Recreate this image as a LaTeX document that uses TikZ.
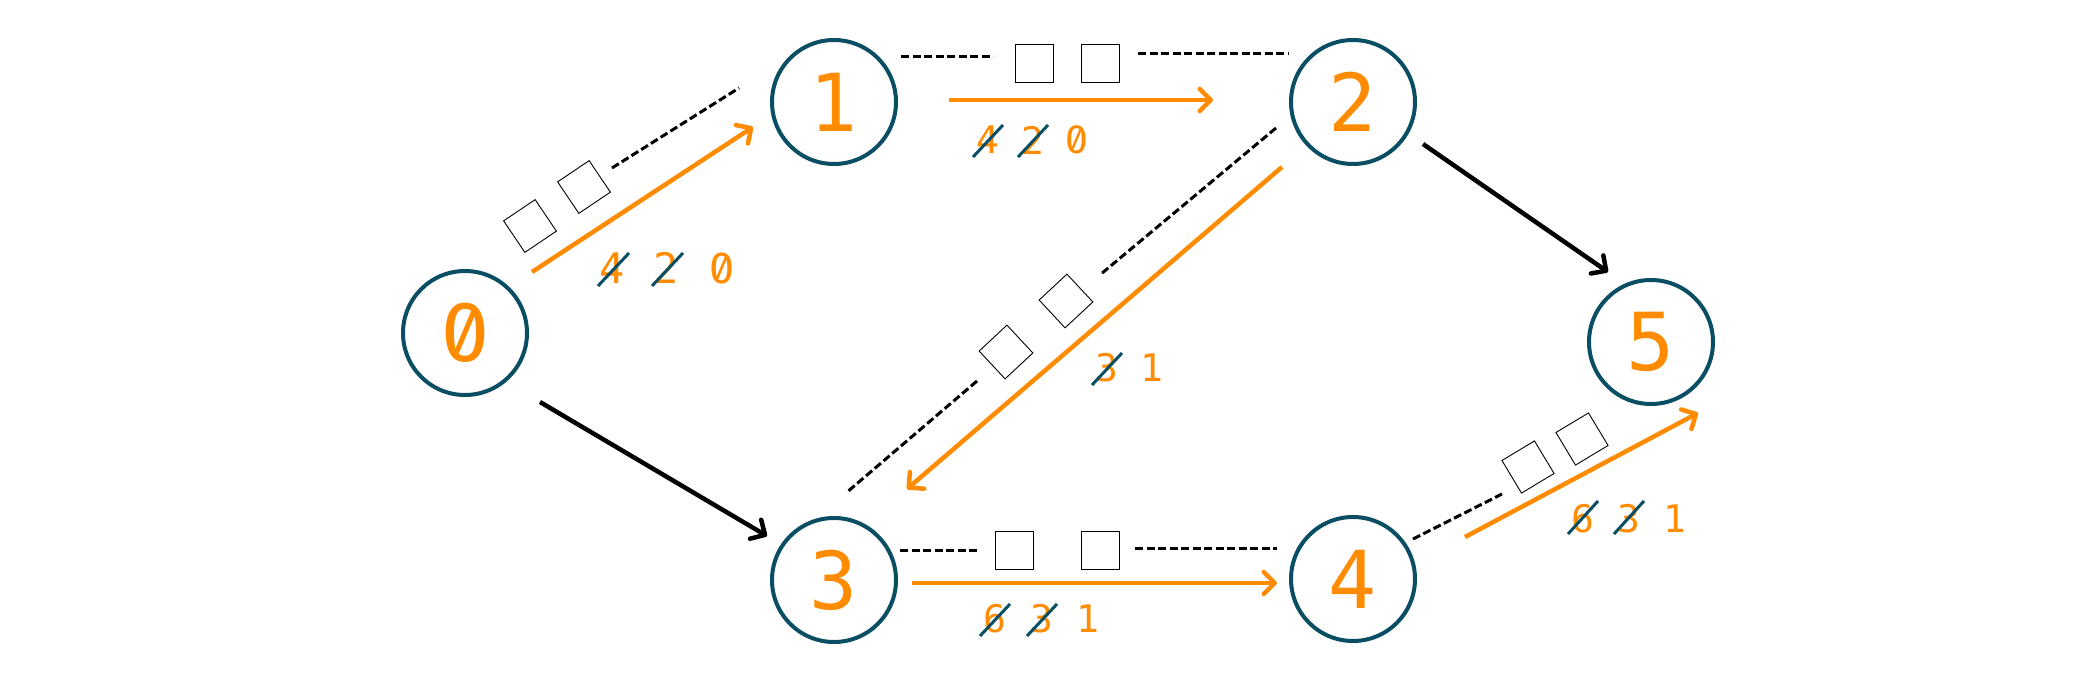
\documentclass[tikz,border=0pt]{standalone}
\usepackage{fontspec}
\usetikzlibrary{arrows.meta}
\newfontfamily\monofont{DejaVu Sans Mono}
\newfontfamily\zerofont{Fira Sans}[Numbers=SlashedZero]
\definecolor{ora}{RGB}{255,140,0}
\definecolor{nodeteal}{RGB}{10,78,100}
\begin{document}
\begin{tikzpicture}[x=1pt,y=-1pt,
  vert/.style={circle,draw=nodeteal,line width=4pt,minimum size=124pt,inner sep=0pt,
    text=ora,font=\monofont\fontsize{80}{80}\selectfont},
  oarrow/.style={draw=ora,line width=4.5pt,-{Straight Barb[length=11pt,width=22pt,line cap=round,line join=round]}},
  barrow/.style={draw=black,line width=4.5pt,-{Straight Barb[length=11pt,width=22pt,line cap=round,line join=round]}},
  dashln/.style={draw=black,line width=3pt,dash pattern=on 8pt off 3.5pt},
  sq/.style={draw=black,line width=0.9pt,minimum size=38pt,inner sep=0pt},
  lbl/.style={text=ora,inner sep=0pt,font=\monofont\fontsize{38}{38}\selectfont},
  lblbig/.style={text=ora,inner sep=0pt,font=\monofont\fontsize{42}{42}\selectfont},
  slash/.style={draw=nodeteal,line width=3pt}
]
\useasboundingbox[fill=white] (0,0) rectangle (2078,679);

% vertices
\node[vert] (n0) at (465,333) {\zerofont\fontsize{86}{86}\selectfont 0};
\node[vert] (n1) at (834,102) {1};
\node[vert] (n2) at (1353,102) {2};
\node[vert] (n3) at (834,580) {3};
\node[vert] (n4) at (1353,579) {4};
\node[vert] (n5) at (1651,342) {5};

% end points of connectors
\coordinate (a01s) at (532,272);  \coordinate (a01e) at (753,127);
\coordinate (a12s) at (949,100);  \coordinate (a12e) at (1213,100);
\coordinate (a23s) at (1282,167); \coordinate (a23e) at (907,489);
\coordinate (a34s) at (912,583);  \coordinate (a34e) at (1277,583);
\coordinate (a45s) at (1465,537); \coordinate (a45e) at (1698,413);
\coordinate (b03s) at (540,402);  \coordinate (b03e) at (767,536);
\coordinate (b25s) at (1423,144); \coordinate (b25e) at (1608,272);

\coordinate (d01s) at (612,168);  \coordinate (d01e) at (739,88);
\coordinate (d12as) at (901,57);  \coordinate (d12ae) at (993,57);
\coordinate (d12bs) at (1138,54); \coordinate (d12be) at (1288,54);
\coordinate (d23as) at (1276,128);\coordinate (d23ae) at (1101,274);
\coordinate (d23bs) at (977,381); \coordinate (d23be) at (846,493);
\coordinate (d34as) at (900,550); \coordinate (d34ae) at (978,550);
\coordinate (d34bs) at (1135,548);\coordinate (d34be) at (1277,548);
\coordinate (d45s) at (1413,539); \coordinate (d45e) at (1502,494);

% orange arrows
\draw[oarrow] (a01s) -- (a01e);
\draw[oarrow] (a12s) -- (a12e);
\draw[oarrow] (a23s) -- (a23e);
\draw[oarrow] (a34s) -- (a34e);
\draw[oarrow] (a45s) -- (a45e);
% black arrows
\draw[barrow] (b03s) -- (b03e);
\draw[barrow] (b25s) -- (b25e);

% dashed lines
\draw[dashln] (d01s) -- (d01e);
\draw[dashln] (d12as) -- (d12ae);
\draw[dashln] (d12bs) -- (d12be);
\draw[dashln] (d23as) -- (d23ae);
\draw[dashln] (d23bs) -- (d23be);
\draw[dashln] (d34as) -- (d34ae);
\draw[dashln] (d34bs) -- (d34be);
\draw[dashln] (d45s) -- (d45e);

% squares
\node[sq,rotate=34] (s01a) at (530,226) {};
\node[sq,rotate=34] (s01b) at (584,187) {};
\node[sq] (s12a) at (1034,63) {};
\node[sq] (s12b) at (1100,63) {};
\node[sq,rotate=43] (s23a) at (1066,301) {};
\node[sq,rotate=43] (s23b) at (1006,352) {};
\node[sq] (s34a) at (1014,550) {};
\node[sq] (s34b) at (1100,550) {};
\node[sq,rotate=31] (s45a) at (1528,467) {};
\node[sq,rotate=31] (s45b) at (1582,439) {};

% labels
\node[lblbig] (l01a) at (612,268) {4};
\node[lblbig] (l01b) at (666,268) {2};
\node[lblbig] (l01c) at (722,268) {\zerofont\fontsize{45}{45}\selectfont 0};
\draw[slash] ([shift={(-14,18)}]l01a.center) -- ([shift={(17,-15)}]l01a.center);
\draw[slash] ([shift={(-14,18)}]l01b.center) -- ([shift={(17,-15)}]l01b.center);

\node[lbl] (l12a) at (988,140) {4};
\node[lbl] (l12b) at (1033,140) {2};
\node[lbl] (l12c) at (1077,140) {\zerofont\fontsize{41}{41}\selectfont 0};
\draw[slash] ([shift={(-15,17)}]l12a.center) -- ([shift={(15,-15)}]l12a.center);
\draw[slash] ([shift={(-15,17)}]l12b.center) -- ([shift={(15,-15)}]l12b.center);

\node[lbl] (l23a) at (1107,368) {3};
\node[lbl] (l23b) at (1152,368) {1};
\draw[slash] ([shift={(-15,17)}]l23a.center) -- ([shift={(15,-15)}]l23a.center);

\node[lbl] (l34a) at (995,619) {6};
\node[lbl] (l34b) at (1042,619) {3};
\node[lbl] (l34c) at (1088,619) {1};
\draw[slash] ([shift={(-15,17)}]l34a.center) -- ([shift={(15,-15)}]l34a.center);
\draw[slash] ([shift={(-15,17)}]l34b.center) -- ([shift={(15,-15)}]l34b.center);

\node[lbl] (l45a) at (1583,519) {6};
\node[lbl] (l45b) at (1629,519) {3};
\node[lbl] (l45c) at (1675,519) {1};
\draw[slash] ([shift={(-15,15)}]l45a.center) -- ([shift={(15,-18)}]l45a.center);
\draw[slash] ([shift={(-15,15)}]l45b.center) -- ([shift={(15,-18)}]l45b.center);
\end{tikzpicture}
\end{document}
